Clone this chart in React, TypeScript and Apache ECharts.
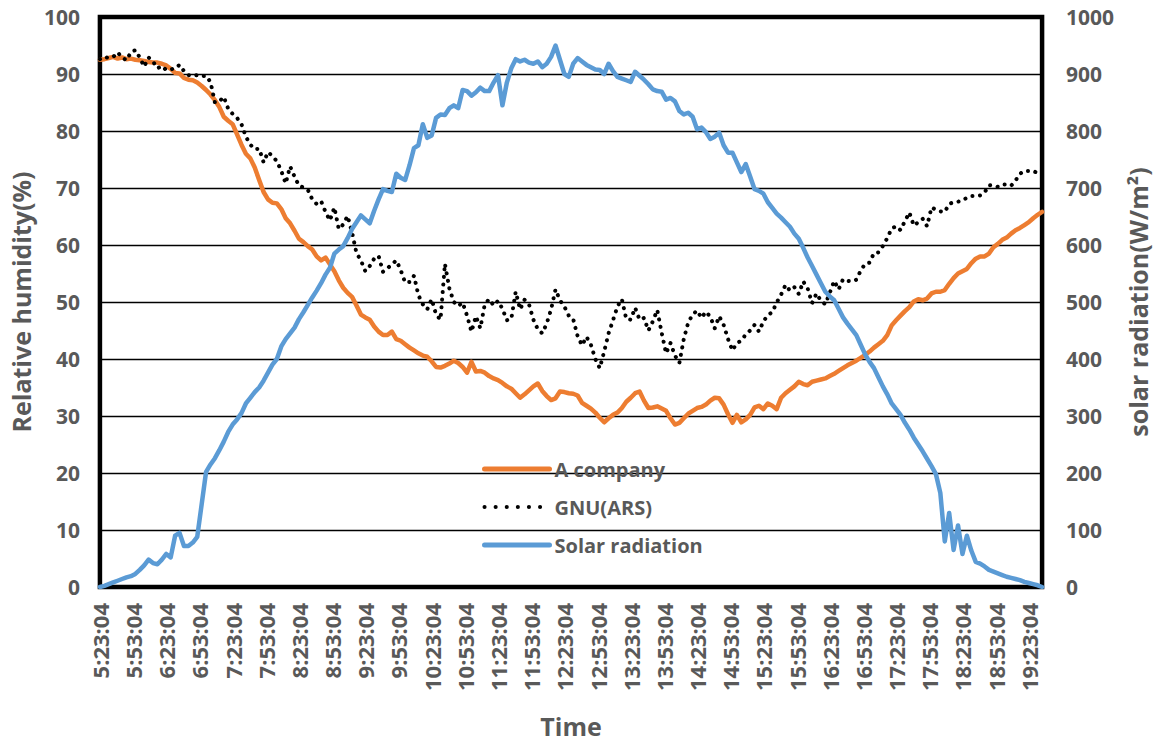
import React, { useEffect, useRef } from "react";
import * as echarts from "echarts";

// Minutes after 5:23:04, one reading every 4 minutes (5:23:04 ... 19:35:04)
const STEP_MINUTES = 4;
const X_MAX_MINUTES = 852;

const A_COMPANY = [
  92.5, 92.6, 92.8, 93.0, 92.7, 92.9, 92.6, 92.7, 92.5, 92.4,
  92.3, 92.1, 92.0, 92.0, 91.8, 91.5, 90.9, 90.2, 90.1, 89.3,
  89.0, 88.9, 88.5, 87.9, 87.2, 86.4, 85.4, 84.2, 82.5, 81.8,
  81.2, 79.4, 77.6, 76.0, 75.2, 73.6, 71.4, 69.3, 68.0, 67.4,
  67.3, 66.3, 64.7, 63.8, 62.5, 61.1, 60.5, 59.8, 59.2, 58.0,
  57.3, 57.8, 56.6, 55.4, 53.8, 52.5, 51.6, 50.9, 49.4, 47.8,
  47.3, 46.9, 45.7, 44.8, 44.2, 44.2, 44.8, 43.5, 43.2, 42.6,
  42.0, 41.5, 41.0, 40.6, 40.4, 39.6, 38.6, 38.5, 38.8, 39.2,
  39.7, 39.3, 38.6, 37.6, 39.5, 37.8, 37.9, 37.6, 37.0, 36.6,
  36.3, 35.8, 35.2, 34.8, 34.0, 33.2, 33.8, 34.5, 35.2, 35.7,
  34.4, 33.5, 32.8, 33.1, 34.3, 34.2, 34.0, 33.9, 33.6, 32.3,
  31.8, 31.3, 30.6, 29.7, 28.9, 29.6, 30.2, 30.6, 31.4, 32.5,
  33.2, 34.0, 34.3, 32.7, 31.4, 31.5, 31.7, 31.3, 30.9, 29.6,
  28.5, 28.8, 29.6, 30.4, 30.9, 31.4, 31.6, 32.0, 32.7, 33.2,
  33.1, 32.0, 30.3, 28.8, 30.2, 28.9, 29.4, 30.2, 31.5, 31.8,
  31.2, 32.2, 31.8, 31.2, 33.2, 34.0, 34.6, 35.2, 36.0, 35.6,
  35.4, 36.0, 36.2, 36.4, 36.6, 37.0, 37.4, 37.9, 38.4, 38.9,
  39.3, 39.7, 40.2, 40.7, 41.3, 42.0, 42.6, 43.2, 44.2, 45.9,
  46.8, 47.6, 48.4, 49.1, 50.1, 50.5, 50.3, 50.6, 51.5, 51.8,
  51.8, 52.1, 53.2, 54.2, 55.0, 55.4, 55.8, 56.8, 57.6, 58.0,
  58.0, 58.5, 59.6, 60.2, 60.9, 61.3, 62.0, 62.6, 63.0, 63.5,
  64.0, 64.7, 65.3, 65.8,
];

const GNU_ARS = [
  92.6, 93.0, 92.8, 93.0, 93.8, 92.9, 92.4, 93.8, 94.2, 92.9,
  91.3, 92.9, 92.2, 91.0, 91.4, 90.7, 90.8, 91.0, 91.6, 90.5,
  89.8, 89.7, 89.8, 89.6, 89.7, 88.6, 85.0, 85.2, 86.0, 83.9,
  83.0, 82.3, 81.2, 79.0, 77.6, 76.8, 76.9, 74.5, 76.3, 75.6,
  74.7, 73.0, 70.8, 73.8, 72.0, 70.4, 70.1, 69.7, 68.0, 67.2,
  67.7, 65.8, 64.3, 66.6, 62.8, 63.6, 65.1, 62.2, 58.6, 57.3,
  55.4, 56.3, 57.6, 58.1, 55.3, 55.9, 56.6, 57.3, 55.6, 53.4,
  53.5, 54.6, 51.2, 49.6, 48.7, 50.5, 47.8, 46.9, 56.7, 52.4,
  50.0, 49.3, 49.9, 47.6, 44.8, 47.5, 45.4, 49.6, 50.5, 49.4,
  50.2, 48.8, 46.8, 47.0, 51.8, 48.7, 50.4, 49.6, 46.9, 45.2,
  44.5, 46.2, 48.7, 52.2, 50.3, 49.2, 47.6, 47.0, 44.0, 42.4,
  43.9, 42.5, 40.0, 38.4, 41.3, 44.5, 46.8, 49.2, 50.5, 47.0,
  46.9, 49.0, 46.9, 47.2, 45.0, 46.6, 48.6, 44.6, 41.0, 42.8,
  40.6, 39.3, 43.5, 46.4, 47.8, 48.5, 47.2, 48.3, 47.4, 45.4,
  47.5, 46.0, 43.5, 41.5, 42.8, 43.2, 44.3, 45.0, 46.0, 44.8,
  46.6, 47.7, 48.2, 49.9, 51.3, 53.0, 52.0, 52.6, 51.4, 53.6,
  52.4, 49.8, 51.5, 50.2, 49.6, 51.6, 53.7, 52.2, 54.0, 53.7,
  53.6, 53.9, 55.5, 56.7, 56.9, 58.6, 58.7, 59.8, 61.2, 62.9,
  63.3, 62.6, 64.2, 65.7, 63.4, 64.0, 64.6, 63.3, 66.6, 66.2,
  65.9, 65.8, 67.2, 67.5, 67.6, 67.8, 68.3, 68.6, 68.6, 68.7,
  69.2, 70.5, 70.4, 70.2, 70.6, 70.6, 70.4, 71.3, 72.5, 73.0,
  73.0, 73.0, 72.6, 72.4,
];

const SOLAR = [
  0, 2, 5, 8, 11, 14, 17, 19, 23, 30,
  38, 48, 42, 40, 48, 58, 52, 90, 95, 72,
  72, 78, 88, 145, 202, 215, 226, 240, 255, 272,
  285, 294, 305, 322, 332, 342, 350, 362, 376, 390,
  400, 422, 435, 445, 455, 470, 482, 495, 508, 520,
  533, 548, 560, 585, 592, 598, 612, 628, 640, 652,
  645, 638, 660, 680, 698, 695, 693, 725, 718, 714,
  740, 770, 775, 812, 788, 792, 823, 829, 828, 840,
  845, 840, 872, 870, 862, 868, 876, 870, 870, 885,
  898, 845, 885, 910, 926, 922, 925, 920, 918, 922,
  912, 918, 930, 950, 925, 900, 895, 918, 928, 922,
  916, 912, 908, 907, 900, 918, 905, 895, 892, 889,
  886, 904, 897, 890, 882, 873, 870, 869, 855, 858,
  852, 835, 829, 832, 825, 803, 806, 798, 786, 790,
  797, 775, 762, 762, 745, 728, 742, 720, 698, 695,
  690, 675, 665, 655, 648, 640, 632, 620, 611, 595,
  578, 563, 548, 533, 518, 510, 503, 488, 473, 462,
  452, 442, 425, 408, 395, 384, 368, 352, 338, 322,
  312, 302, 288, 276, 262, 250, 238, 225, 212, 198,
  165, 80, 130, 65, 108, 58, 90, 64, 44, 41,
  36, 30, 27, 24, 21, 18, 16, 14, 12, 9,
  7, 5, 3, 0,
];

const SERIES_NAMES = ["A company", "GNU(ARS)", "Solar radiation"];
const START_H = 5;
const START_M = 23;
const START_S = "04";

function timeLabel(v: number): string {
  if (v % 30 !== 0) return "";
  const total = START_H * 60 + START_M + v;
  const h = Math.floor(total / 60);
  const m = total % 60;
  return `${h}:${m < 10 ? "0" + m : m}:${START_S}`;
}

const FONT = "Open Sans";
const GRAY = "#595959";

export default function App() {
  const ref = useRef<HTMLDivElement>(null);

  useEffect(() => {
    if (!ref.current) return;
    const chart = echarts.init(ref.current, null, { renderer: "svg" });
    const toPairs = (arr: number[]) => arr.map((v, i) => [i * STEP_MINUTES, v]);

    chart.setOption({
      animation: false,
      backgroundColor: "#fff",
      textStyle: { fontFamily: FONT },
      grid: {
        left: 97,
        right: 112,
        top: 17,
        bottom: 153,
        show: true,
        borderColor: "#000",
        borderWidth: 4.5,
        backgroundColor: "transparent",
      },
      legend: {
        orient: "vertical",
        left: 477,
        top: 453,
        itemWidth: 65,
        itemHeight: 14,
        itemGap: 16,
        selectedMode: false,
        itemStyle: { color: "rgba(0,0,0,0)", borderWidth: 0, opacity: 0 },
        textStyle: { color: GRAY, fontSize: 20, fontWeight: "bold", fontFamily: FONT, lineHeight: 22 },
        data: [
          { name: SERIES_NAMES[0], lineStyle: { width: 5 } },
          { name: SERIES_NAMES[1], lineStyle: { width: 4, type: [0.1, 11], cap: "round" } },
          { name: SERIES_NAMES[2], lineStyle: { width: 5 } },
        ],
      },
      xAxis: {
        type: "value",
        min: 0,
        max: X_MAX_MINUTES,
        interval: 30,
        axisLine: { show: false },
        axisTick: { show: false },
        splitLine: { show: false },
        axisLabel: {
          rotate: 90,
          margin: 16,
          color: GRAY,
          fontSize: 22,
          fontWeight: "bold",
          fontFamily: FONT,
          formatter: (v: number) => timeLabel(v),
        },
        name: "Time",
        nameLocation: "middle",
        nameGap: 126,
        nameTextStyle: { color: GRAY, fontSize: 25, fontWeight: "bold", fontFamily: FONT },
      },
      yAxis: [
        {
          type: "value",
          min: 0,
          max: 100,
          interval: 10,
          axisLine: { show: false },
          axisTick: { show: false },
          splitLine: { lineStyle: { color: "#000", width: 1.3 } },
          axisLabel: { color: GRAY, fontSize: 21, fontWeight: "bold", fontFamily: FONT, margin: 20 },
          name: "Relative humidity(%)",
          nameLocation: "middle",
          nameRotate: 90,
          nameGap: 58,
          nameTextStyle: { color: GRAY, fontSize: 25, fontWeight: "bold", fontFamily: FONT },
        },
        {
          type: "value",
          position: "right",
          min: 0,
          max: 1000,
          interval: 100,
          axisLine: { show: false },
          axisTick: { show: false },
          splitLine: { show: false },
          axisLabel: {
            color: GRAY,
            fontSize: 21,
            fontWeight: "bold",
            fontFamily: FONT,
            margin: 24,
            formatter: (v: number) => String(v),
          },
          name: "solar radiation(W/m²)",
          nameLocation: "middle",
          nameRotate: 90,
          nameGap: 68,
          nameTextStyle: { color: GRAY, fontSize: 25, fontWeight: "bold", fontFamily: FONT },
        },
      ],
      series: [
        {
          name: SERIES_NAMES[0],
          type: "line",
          data: toPairs(A_COMPANY),
          symbol: "none",
          showSymbol: false,
          itemStyle: { color: "#ED7D31" },
          lineStyle: { color: "#ED7D31", width: 4.5, cap: "round", join: "round" },
          z: 2,
        },
        {
          name: SERIES_NAMES[1],
          type: "line",
          data: toPairs(GNU_ARS),
          symbol: "none",
          showSymbol: false,
          itemStyle: { color: "#000" },
          lineStyle: { color: "#000", width: 4, type: [0.1, 7.5], cap: "round", join: "round" },
          z: 3,
        },
        {
          name: SERIES_NAMES[2],
          type: "line",
          yAxisIndex: 1,
          data: toPairs(SOLAR),
          symbol: "none",
          showSymbol: false,
          itemStyle: { color: "#5B9BD5" },
          lineStyle: { color: "#5B9BD5", width: 4.5, cap: "round", join: "round" },
          z: 4,
        },
      ],
    });
    return () => chart.dispose();
  }, []);

  return (
    <div
      ref={ref}
      style={{ position: "fixed", left: 0, top: 0, width: 1158, height: 743, background: "#fff" }}
    />
  );
}
